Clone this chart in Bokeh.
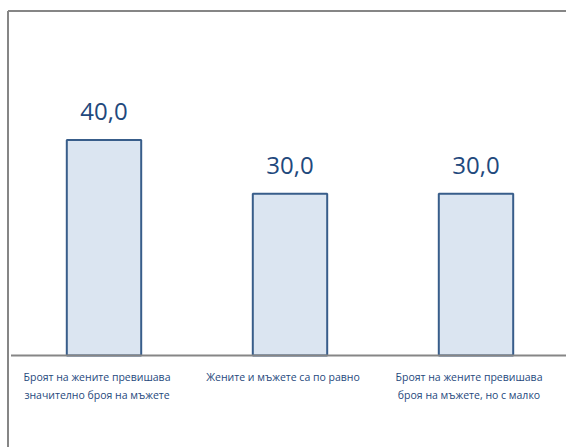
from bokeh.plotting import figure
from bokeh.models import Range1d, ColumnDataSource
from bokeh.core.properties import value
from bokeh.embed import file_html
from bokeh.resources import INLINE

categories = [
    "Броят на жените превишава\nзначително броя на мъжете",
    "Жените и мъжете са по равно",
    "Броят на жените превишава\nброя на мъжете, но с малко",
]
values = [40.0, 30.0, 30.0]
value_labels = ["40,0", "30,0", "30,0"]

xs = list(range(len(categories)))
src = ColumnDataSource(dict(x=xs, top=values, cat=categories, lab=value_labels,
                            zero=[0] * len(xs)))

FONT = "Open Sans"
TXT = "#1F497D"
GREY = "#868686"

# pixel layout: frame spans the whole canvas; 186 px per category, 5.39 px per unit
PX_X, PX_Y = 186.0, 5.39
X0_PX, Y0_PX = 103.5, 355.0
W, H = 566, 447
x_start, x_end = -X0_PX / PX_X, (W - X0_PX) / PX_X
y_end, y_start = Y0_PX / PX_Y, -(H - Y0_PX) / PX_Y

p = figure(width=W, height=H, output_backend="svg", toolbar_location=None,
           x_axis_type=None, y_axis_type=None,
           x_range=Range1d(x_start, x_end), y_range=Range1d(y_start, y_end),
           min_border=0)
p.outline_line_color = None
p.grid.visible = False
p.background_fill_color = "white"
p.border_fill_color = "white"

# chart-area border (left and top edges, as in the original)
bx = x_start + 7.5 / PX_X
by = y_end - 10.5 / PX_Y
p.segment(x0=[bx, bx], y0=[y_start, by], x1=[bx, x_end], y1=[by, by],
          line_color=GREY, line_width=2)

p.vbar(x="x", top="top", bottom=0, width=0.4, source=src,
       fill_color="#DBE5F1", line_color="#385D8A", line_width=2)

# category axis line
p.segment(x0=[-0.5], y0=[0], x1=[len(categories) - 0.5], y1=[0],
          line_color=GREY, line_width=2)

p.text(x="x", y="top", text="lab", source=src, text_align="center",
       text_baseline="alphabetic", y_offset=-28, text_color=TXT,
       text_font=value(FONT), text_font_size="24px")

p.text(x="x", y="zero", text="cat", source=src, text_align="center",
       text_baseline="top", y_offset=14, x_offset=-7, text_color=TXT,
       text_font=value(FONT), text_font_size="10.5px", text_line_height=1.3)

open("out.html", "w").write(file_html(p, INLINE))
